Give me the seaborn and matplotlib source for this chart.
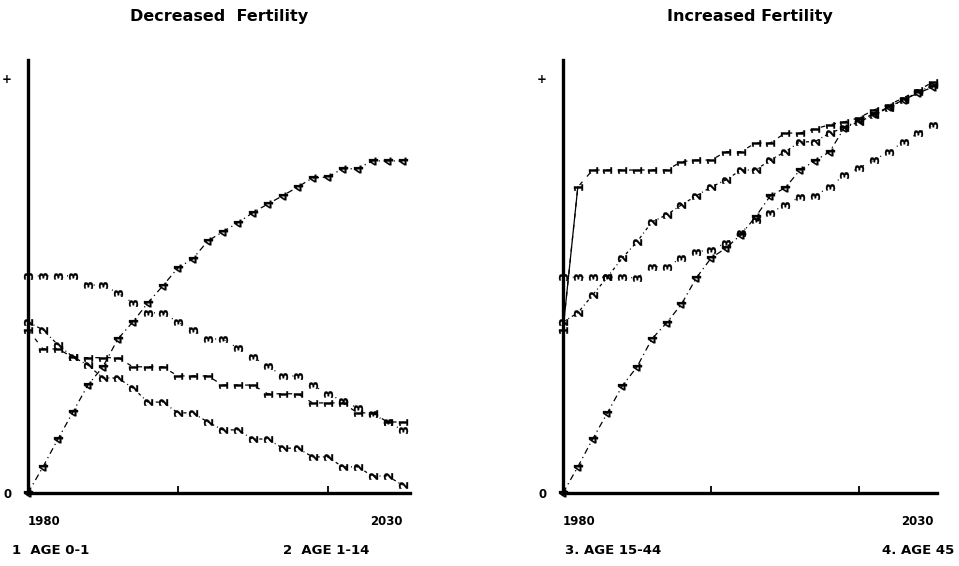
import matplotlib
matplotlib.use("Agg")
import matplotlib.pyplot as plt
from matplotlib.markers import MarkerStyle
from matplotlib.transforms import Affine2D
import seaborn as sns
import pandas as pd

# ---- data (0 = baseline, 100 = "+") ----
years = [1980, 1982, 1984, 1986, 1988, 1990, 1992, 1994, 1996, 1998,
         2000, 2002, 2004, 2006, 2008, 2010, 2012, 2014, 2016, 2018,
         2020, 2022, 2024, 2026, 2028, 2030]

dec_age_0_1 = [39.3, 34.7, 34.7, 32.7, 32.6, 32.6, 32.6, 30.4, 30.4, 30.4,
               28.2, 28.2, 28.2, 26.0, 26.0, 26.0, 23.9, 23.9, 23.9, 21.7,
               21.7, 21.7, 19.3, 19.3, 17.1, 17.1]
dec_age_1_14 = [41.2, 39.3, 35.7, 32.8, 30.8, 27.7, 27.7, 25.3, 21.9, 21.9,
                19.3, 19.3, 17.1, 15.2, 15.2, 13.0, 13.0, 10.8, 10.8, 8.7,
                8.7, 6.3, 6.3, 4.1, 4.1, 1.9]
dec_age_15_44 = [52.3, 52.3, 52.3, 52.3, 50.1, 50.1, 48.2, 45.8, 43.4, 43.4,
                 41.2, 39.3, 37.1, 37.1, 34.9, 32.8, 30.6, 28.2, 28.2, 26.0,
                 23.9, 22.2, 20.5, 19.0, 17.1, 15.2]
dec_age_45 = [0.0, 6.3, 13.0, 19.5, 26.0, 30.4, 37.1, 41.2, 45.8, 49.9,
              54.2, 56.4, 60.7, 62.9, 65.1, 67.5, 69.6, 71.6, 73.7, 75.9,
              76.1, 78.1, 78.1, 80.0, 80.0, 80.0]

inc_age_0_1 = [39.3, 73.7, 77.8, 77.8, 77.8, 77.8, 77.8, 77.8, 79.8, 80.2,
               80.2, 82.2, 82.2, 84.3, 84.3, 86.7, 86.7, 87.7, 88.7, 89.4,
               90.4, 92.3, 93.5, 95.2, 97.1, 99.0]
inc_age_1_14 = [41.2, 43.4, 47.7, 52.0, 56.6, 60.5, 65.3, 67.0, 69.4, 71.6,
                73.7, 75.4, 77.8, 77.8, 80.2, 82.2, 84.6, 84.6, 86.7, 88.0,
                89.4, 91.1, 92.8, 94.7, 96.6, 98.3]
inc_age_15_44 = [52.0, 52.0, 52.0, 52.0, 52.0, 51.8, 54.5, 54.5, 56.6, 58.1,
                 58.6, 60.2, 62.7, 65.8, 67.5, 69.4, 71.3, 71.6, 73.7, 76.6,
                 78.3, 80.2, 82.2, 84.6, 86.7, 88.7]
inc_age_45 = [0.0, 6.3, 13.0, 19.3, 25.8, 30.4, 37.1, 41.0, 45.5, 51.8,
              56.6, 59.0, 62.2, 66.5, 71.6, 73.5, 77.8, 80.0, 82.2, 88.0,
              89.9, 91.3, 93.0, 94.7, 96.4, 97.8]

series_codes = ["1", "2", "3", "4"]
legend_labels = ["1  AGE 0-1", "2  AGE 1-14", "3. AGE 15-44", "4. AGE 45"]
panel_titles = ["Decreased  Fertility", "Increased Fertility"]
x_tick_labels = ["1980", "2030"]
y_tick_labels = ["0", "+"]

# ---- styles ----
sns.set_theme(style="white")
plt.rcParams["font.family"] = ["DejaVu Sans"]
plt.rcParams["font.weight"] = "bold"
plt.rcParams["text.color"] = "black"
plt.rcParams["xtick.color"] = "black"
plt.rcParams["ytick.color"] = "black"
plt.rcParams["axes.labelcolor"] = "black"

line_styles = {
    "1": (0, (3.5, 5.5)),
    "2": (0, (2.5, 2.5, 0.8, 2.5)),
    "3": (0, (0.8, 7)),
    "4": (0, (5, 3, 1, 3)),
}


def glyph_marker(ch):
    return MarkerStyle(f"$\\mathbf{{{ch}}}$", transform=Affine2D().rotate_deg(90))


fig = plt.figure(figsize=(9.59, 5.66), dpi=100)
ax_l = fig.add_axes([28 / 959, 1 - 493 / 566, (410 - 28) / 959, (493 - 60) / 566])
ax_r = fig.add_axes([563 / 959, 1 - 493 / 566, (937 - 563) / 959, (493 - 60) / 566])

panels = [
    (ax_l, [dec_age_0_1, dec_age_1_14, dec_age_15_44, dec_age_45], (1980, 2031.0)),
    (ax_r, [inc_age_0_1, inc_age_1_14, inc_age_15_44, inc_age_45], (1980, 2030.5)),
]

for idx, (ax, data, xl) in enumerate(panels):
    df = pd.DataFrame({"year": years})
    for code, vals in zip(series_codes, data):
        df[code] = vals
    for code in series_codes:
        sns.lineplot(data=df, x="year", y=code, ax=ax, color="black",
                     linestyle=line_styles[code], linewidth=0.9,
                     marker=glyph_marker(code), markersize=6.5,
                     markeredgewidth=0.2, markerfacecolor="black",
                     markeredgecolor="black", clip_on=False)
    if idx == 1:
        # in the increased-fertility panel the first age 0-1 step is drawn solid
        sns.lineplot(data=df.iloc[:2], x="year", y="1", ax=ax, color="black",
                     linestyle="-", linewidth=0.9)
    ax.set_xlim(*xl)
    ax.set_ylim(0, 104.3)
    ax.set_xlabel("")
    ax.set_ylabel("")
    for s in ["top", "right"]:
        ax.spines[s].set_visible(False)
    for s in ["left", "bottom"]:
        ax.spines[s].set_linewidth(2.4)
        ax.spines[s].set_color("black")
    ax.set_xticks([1980, 2000, 2020, 2030])
    ax.set_xticklabels([x_tick_labels[0], "", "", x_tick_labels[1]],
                       fontsize=8.5, fontweight="bold", color="black")
    lbls = ax.get_xticklabels()
    lbls[0].set_horizontalalignment("left")
    lbls[-1].set_horizontalalignment("right")
    ax.tick_params(axis="x", bottom=True, direction="in", length=5, width=1.3,
                   pad=16, colors="black")
    ticks = ax.xaxis.get_major_ticks()
    ticks[0].tick1line.set_visible(False)
    ticks[-1].tick1line.set_visible(False)
    ax.set_yticks([0, 100])
    ax.set_yticklabels(y_tick_labels, fontsize=8.5, fontweight="bold",
                       color="black")
    ax.tick_params(axis="y", left=False, length=0, pad=12, colors="black")
    ax.set_title(panel_titles[idx], fontsize=11.5, fontweight="bold", pad=28,
                 color="black")

# legend line at the bottom
legend_pos = [(12 / 959, "left"), (283 / 959, "left"), (565 / 959, "left"),
              (954 / 959, "right")]
for (lx, ha), txt in zip(legend_pos, legend_labels):
    fig.text(lx, 1 - 551 / 566, txt, fontsize=9.5, fontweight="bold",
             ha=ha, va="center", color="black")

fig.savefig("out.png", dpi=100)
